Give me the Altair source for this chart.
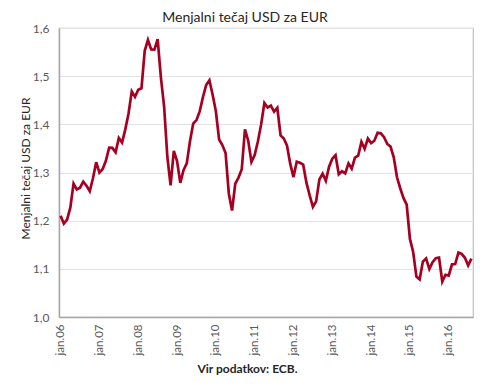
import altair as alt
import pandas as pd

years = list(range(2006, 2017))
rates_2006 = [1.2103, 1.1938, 1.2020, 1.2271, 1.2770, 1.2650, 1.2684, 1.2811, 1.2727, 1.2611, 1.2881, 1.3213]
rates_2007 = [1.2999, 1.3074, 1.3242, 1.3516, 1.3511, 1.3419, 1.3716, 1.3622, 1.3896, 1.4227, 1.4684, 1.4570]
rates_2008 = [1.4718, 1.4748, 1.5527, 1.5751, 1.5557, 1.5553, 1.5770, 1.4975, 1.4370, 1.3322, 1.2732, 1.3449]
rates_2009 = [1.3239, 1.2785, 1.3050, 1.3190, 1.3650, 1.4016, 1.4088, 1.4268, 1.4562, 1.4816, 1.4914, 1.4614]
rates_2010 = [1.4272, 1.3686, 1.3569, 1.3406, 1.2565, 1.2209, 1.2770, 1.2894, 1.3067, 1.3898, 1.3661, 1.3220]
rates_2011 = [1.3360, 1.3649, 1.3999, 1.4442, 1.4349, 1.4388, 1.4264, 1.4343, 1.3770, 1.3706, 1.3556, 1.3179]
rates_2012 = [1.2905, 1.3224, 1.3201, 1.3162, 1.2789, 1.2526, 1.2288, 1.2400, 1.2856, 1.2974, 1.2828, 1.3119]
rates_2013 = [1.3288, 1.3359, 1.2964, 1.3026, 1.2982, 1.3189, 1.3080, 1.3310, 1.3348, 1.3635, 1.3493, 1.3704]
rates_2014 = [1.3610, 1.3659, 1.3823, 1.3813, 1.3732, 1.3592, 1.3539, 1.3316, 1.2901, 1.2673, 1.2472, 1.2331]
rates_2015 = [1.1621, 1.1350, 1.0838, 1.0779, 1.1150, 1.1213, 1.0996, 1.1139, 1.1221, 1.1235, 1.0736, 1.0877]
rates_2016 = [1.0860, 1.1093, 1.1100, 1.1339, 1.1311, 1.1229, 1.1069, 1.1212]

all_rates = [rates_2006, rates_2007, rates_2008, rates_2009, rates_2010, rates_2011,
             rates_2012, rates_2013, rates_2014, rates_2015, rates_2016]

title_text = "Menjalni tečaj USD za EUR"

rows = []
for y, vals in zip(years, all_rates):
    for i, v in enumerate(vals):
        rows.append({"m": f"{y}-{i+1:02d}", "rate": v})
df = pd.DataFrame(rows)
months = list(df["m"])
jan_ticks = [f"{y}-01" for y in years]

FONT = "Lato"
GRAY = "#595959"

line = alt.Chart(df).mark_line(color="#A50021", strokeWidth=2.7).encode(
    x=alt.X("m:O", sort=months,
            scale=alt.Scale(padding=0.5),
            axis=alt.Axis(values=jan_ticks,
                          labelExpr="'jan.' + substring(datum.value, 2, 4)",
                          labelAngle=270, labelFontSize=11.5, labelColor=GRAY, labelFont=FONT,
                          labelPadding=7, ticks=False, domainColor="#A6A6A6", domainWidth=1.5,
                          title="Vir podatkov: ECB.", titleFont=FONT, titleFontSize=12,
                          titleFontWeight="bold", titleColor="#262626",
                          titleX=188, titleY=51, titleBaseline="middle")),
    y=alt.Y("rate:Q", scale=alt.Scale(domain=[1.0, 1.6], nice=False, zero=False),
            axis=alt.Axis(values=[1.0, 1.1, 1.2, 1.3, 1.4, 1.5, 1.6],
                          labelExpr="replace(format(datum.value, '.1f'), '.', ',')",
                          labelFontSize=12, labelColor=GRAY, labelFont=FONT, labelPadding=10,
                          ticks=False, domainColor="#A6A6A6", domainWidth=1.5,
                          gridColor="#E3E3E3", gridWidth=1,
                          title=title_text, titleFont=FONT, titleFontSize=12,
                          titleFontWeight="normal", titleColor="#262626",
                          titleX=-34, titleY=140, titleBaseline="middle", titleAngle=270)),
)

title = alt.Chart(pd.DataFrame({"t": [title_text]})).mark_text(
    font=FONT, fontSize=14, color="#262626", align="center", baseline="alphabetic"
).encode(text="t:N", x=alt.value(186), y=alt.value(-6))

chart = alt.layer(line, title).properties(
    width=414, height=289,
    autosize=alt.AutoSizeParams(type="none"),
    padding={"left": 51, "top": 20, "right": 8, "bottom": 64},
).configure_view(stroke="#BFBFBF", strokeWidth=1.2)

chart.save("out.html", embed_options={"renderer": "svg", "actions": False})
